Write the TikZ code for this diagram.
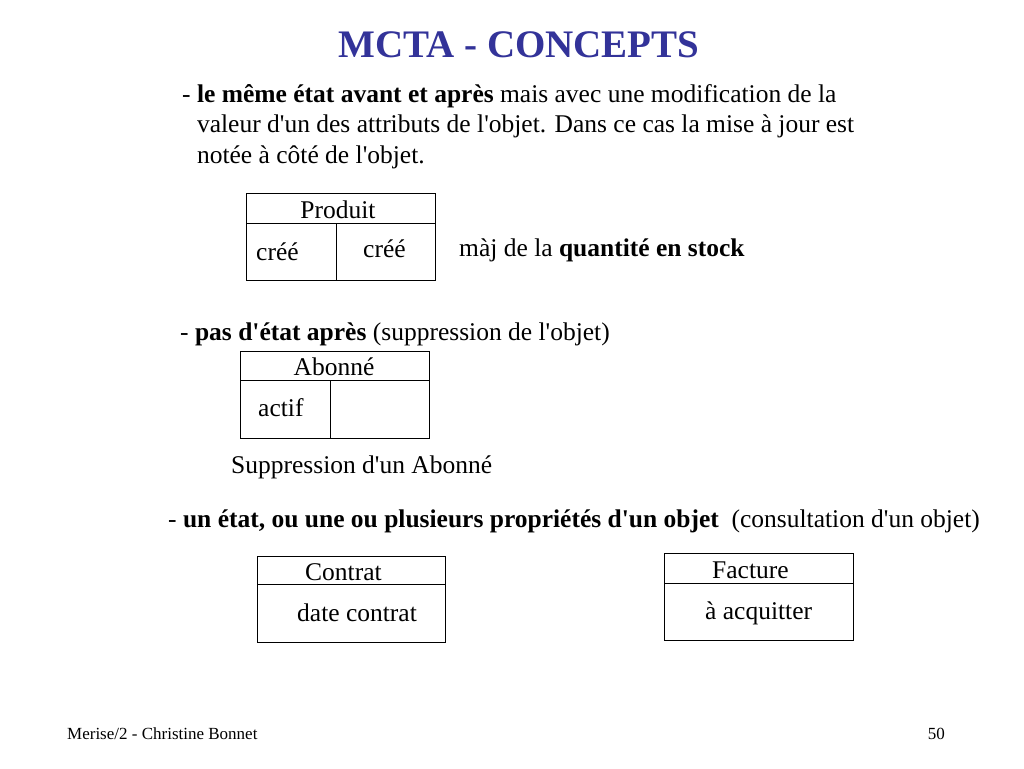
\documentclass[tikz,border=0pt]{standalone}
\usepackage{fontspec}
\setmainfont{Liberation Serif}[Ligatures=TeXOff]
\usetikzlibrary{positioning,calc}
\definecolor{ttl}{HTML}{333399}
\tikzset{
  txt/.style={anchor=base west,inner sep=0pt,font=\fontsize{25.5}{30.5}\selectfont},
  lbl/.style={anchor=base,inner sep=0pt,font=\fontsize{25.5}{30}\selectfont},
  cls/.style={draw,line width=1pt,inner sep=0pt,anchor=north west,minimum width=189pt,minimum height=87pt},
  sep/.style={line width=1pt},
  foot/.style={anchor=base west,inner sep=0pt,font=\fontsize{17}{20}\selectfont},
}

\begin{document}
\begin{tikzpicture}[x=1pt,y=-1pt]
\useasboundingbox (0,0) rectangle (1024,768);
\node[anchor=base,inner sep=0pt,font=\fontsize{39}{44}\selectfont\bfseries,text=ttl] (title) at (519,57) {MCTA - CONCEPTS};

% same state before and after (base = last line)
\node[txt,align=left] (p1) at (182,163)
  {- \textbf{le même état avant et après} mais avec une modification de la\\
   \hphantom{- }valeur d'un des attributs de l'objet. Dans ce cas la mise à jour est\\
   \hphantom{- }notée à côté de l'objet.};
\node[cls] (prod) at (246,193) {};
\draw[sep] ($(prod.north west)+(0,30)$) coordinate (prodh) -- (prodh -| prod.east);
\draw[sep] (prodh -| 336,0) -- (prod.south -| 336,0);
\node[lbl] (prodn) at (338,218) {Produit};
\node[txt] (prodb) at (256,260) {créé};
\node[txt] (proda) at (363,257) {créé};
\node[txt] (maj) at (459,256) {màj de la \textbf{quantité en stock}};

% no state after
\node[txt] (p2) at (180,340) {- \textbf{pas d'état après} (suppression de l'objet)};
\node[cls] (abo) at (240,351) {};
\draw[sep] ($(abo.north west)+(0,29)$) coordinate (aboh) -- (aboh -| abo.east);
\draw[sep] (aboh -| 330,0) -- (abo.south -| 330,0);
\node[lbl] (abon) at (334,375) {Abonné};
\node[txt] (abob) at (258,416) {actif};
\node[txt] (sup) at (231,473) {Suppression d'un Abonné};

% one state or properties
\node[txt] (p3) at (168,527) {- \textbf{un état, ou une ou plusieurs propriétés d'un objet}~ (consultation d'un objet)};
\node[cls,minimum width=188pt,minimum height=86pt] (con) at (257,556) {};
\draw[sep] ($(con.north west)+(0,28)$) coordinate (conh) -- (conh -| con.east);
\node[txt] (conn) at (305,580) {Contrat};
\node[txt] (cond) at (297,621) {date contrat};
\node[cls] (fac) at (664,553) {};
\draw[sep] ($(fac.north west)+(0,30)$) coordinate (fach) -- (fach -| fac.east);
\node[txt] (facn) at (712,578) {Facture};
\node[txt] (faca) at (705,619) {à acquitter};

% footer
\node[foot] (auth) at (67,739) {Merise/2 - Christine Bonnet};
\node[foot,anchor=base east] (page) at (945,739) {50};
\end{tikzpicture}
\end{document}
